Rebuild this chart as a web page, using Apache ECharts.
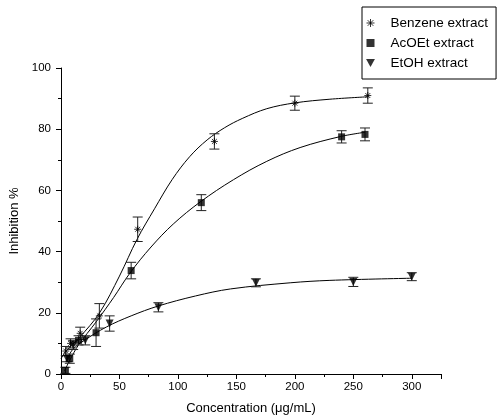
<!DOCTYPE html>
<html>
<head>
<meta charset="UTF-8">
<title>Inhibition %</title>
<script src="https://cdn.jsdelivr.net/npm/echarts@6/dist/echarts.min.js"></script>
<style>
  html, body { margin: 0; padding: 0; background: #fff; }
  #main { width: 503px; height: 419px; }
</style>
</head>
<body>
<div id="main"></div>
<script>
// measured points: concentration, inhibition, error
var benzeneX = [4.1, 8.2, 16.4, 32.8, 65.6, 131.2, 200, 262.4];
var benzeneY = [7.5, 10, 13.3, 19, 47.3, 76, 88.5, 91];
var benzeneErr = [1.5, 1.5, 2, 4, 4, 2.5, 2.3, 2.5];

var acoetX = [3.75, 7.5, 15, 30, 60, 120, 240, 260];
var acoetY = [1.2, 5, 11, 13.5, 33.8, 56, 77.5, 78.3];
var acoetErr = [1, 1.5, 1.5, 4.5, 2.7, 2.6, 2, 2.1];

var etohX = [5.2, 10.4, 20.8, 41.6, 83.3, 166.7, 250, 300];
var etohY = [5, 9.5, 11, 16.5, 21.8, 29.8, 30.1, 31.8];
var etohErr = [1, 1.5, 1.5, 2.5, 1.5, 1.3, 1.5, 1.3];

// fitted curves
var benzeneCurveX = [0, 4, 16, 33, 50, 65, 80, 95, 110, 125, 140, 155, 176, 200, 230, 263];
var benzeneCurveY = [5, 7.3, 12, 20, 32, 44, 54, 63.5, 71, 76.5, 80.5, 83.5, 86.7, 88.6, 89.8, 90.6];
var acoetCurveX = [3, 7.5, 15, 30, 45, 59, 77, 96, 119, 147.5, 176, 204.5, 239, 260];
var acoetCurveY = [1, 4.5, 9.5, 17, 25, 33, 41.5, 49, 56.2, 63.5, 69.5, 74, 77.6, 79];
var etohCurveX = [4, 10, 20, 39, 60, 83, 115, 145, 196, 230, 300];
var etohCurveY = [4, 8, 11, 15.4, 19, 22.2, 25.5, 27.8, 29.8, 30.6, 31.3];

var names = ['Benzene extract', 'AcOEt extract', 'EtOH extract'];
var asterisk = 'path://M0,-5L0,5M-5,0L5,0M-3.5,-3.5L3.5,3.5M-3.5,3.5L3.5,-3.5';
var square = 'path://M0,0L10,0L10,10L0,10Z';
var triDown = 'path://M0,0L10,0L5,9Z';

function pairs(xs, ys) {
    return xs.map(function (x, i) { return [x, ys[i]]; });
}
function triples(xs, ys, es) {
    return xs.map(function (x, i) { return [x, ys[i], es[i]]; });
}

function errorBar(params, api) {
    var x = api.value(0), y = api.value(1), e = api.value(2);
    var top = api.coord([x, y + e]);
    var bot = api.coord([x, y - e]);
    var w = 5;
    var style = { stroke: '#222', lineWidth: 1 };
    return {
        type: 'group',
        children: [
            { type: 'line', shape: { x1: top[0], y1: top[1], x2: bot[0], y2: bot[1] }, style: style },
            { type: 'line', shape: { x1: top[0] - w, y1: top[1], x2: top[0] + w, y2: top[1] }, style: style },
            { type: 'line', shape: { x1: bot[0] - w, y1: bot[1], x2: bot[0] + w, y2: bot[1] }, style: style }
        ]
    };
}

function curve(name, xs, ys) {
    return {
        name: name, type: 'line', smooth: 0.35, showSymbol: false, silent: true,
        data: pairs(xs, ys), lineStyle: { color: '#000', width: 1 }, z: 2
    };
}
function bars(name, xs, ys, es) {
    return {
        name: name, type: 'custom', renderItem: errorBar, silent: true,
        data: triples(xs, ys, es), z: 3
    };
}

var font = 'Liberation Sans, Arial, sans-serif';
var chart = echarts.init(document.getElementById('main'));
chart.setOption({
    animation: false,
    textStyle: { fontFamily: font },
    grid: { left: 61, right: 62, top: 68, bottom: 45, outerBoundsMode: 'none', containLabel: false },
    legend: {
        data: [
            { name: names[0], icon: asterisk, itemStyle: { color: 'transparent', borderColor: '#000', borderWidth: 1 } },
            { name: names[1], icon: square, itemStyle: { color: '#000' } },
            { name: names[2], icon: triDown, itemStyle: { color: '#000' } }
        ],
        orient: 'vertical', left: 362, top: 7,
        padding: [9, 8, 9, 4], itemGap: 6, itemWidth: 30, itemHeight: 8,
        symbolKeepAspect: true,
        borderColor: '#000', borderWidth: 1,
        textStyle: { fontFamily: font, fontSize: 13.5, color: '#000' }
    },
    xAxis: {
        type: 'value', min: 0, max: 325, interval: 50,
        name: 'Concentration (\u03bcg/mL)', nameLocation: 'middle', nameGap: 28,
        nameTextStyle: { fontSize: 13, color: '#000' },
        axisLine: { lineStyle: { color: '#000', width: 1 } },
        axisTick: { length: 5, lineStyle: { color: '#000' } },
        minorTick: { show: true, splitNumber: 2, length: 3, lineStyle: { color: '#000' } },
        axisLabel: {
            fontSize: 11.5, color: '#000', margin: 7,
            formatter: function (v) { return v % 50 === 0 ? String(v) : ''; }
        },
        splitLine: { show: false }
    },
    yAxis: {
        type: 'value', min: 0, max: 100, interval: 20,
        name: 'Inhibition %', nameLocation: 'middle', nameGap: 33,
        nameTextStyle: { fontSize: 13, color: '#000' },
        axisLine: { show: true, lineStyle: { color: '#000', width: 1 } },
        axisTick: { show: true, length: 5, lineStyle: { color: '#000' } },
        minorTick: { show: true, splitNumber: 2, length: 3, lineStyle: { color: '#000' } },
        axisLabel: { fontSize: 11.5, color: '#000', margin: 10 },
        splitLine: { show: false }
    },
    series: [
        curve('bc', benzeneCurveX, benzeneCurveY),
        curve('ac', acoetCurveX, acoetCurveY),
        curve('ec', etohCurveX, etohCurveY),
        bars('be', benzeneX, benzeneY, benzeneErr),
        bars('ae', acoetX, acoetY, acoetErr),
        bars('ee', etohX, etohY, etohErr),
        {
            name: names[0], type: 'scatter', symbol: asterisk, symbolSize: 7,
            data: pairs(benzeneX, benzeneY), z: 4,
            itemStyle: { color: 'transparent', borderColor: '#000', borderWidth: 1 }
        },
        {
            name: names[1], type: 'scatter', symbol: 'rect', symbolSize: 7,
            data: pairs(acoetX, acoetY), z: 4, itemStyle: { color: '#000' }
        },
        {
            name: names[2], type: 'scatter', symbol: 'triangle', symbolRotate: 180, symbolSize: 8,
            data: pairs(etohX, etohY), z: 4, itemStyle: { color: '#000' }
        }
    ]
});
</script>
</body>
</html>
